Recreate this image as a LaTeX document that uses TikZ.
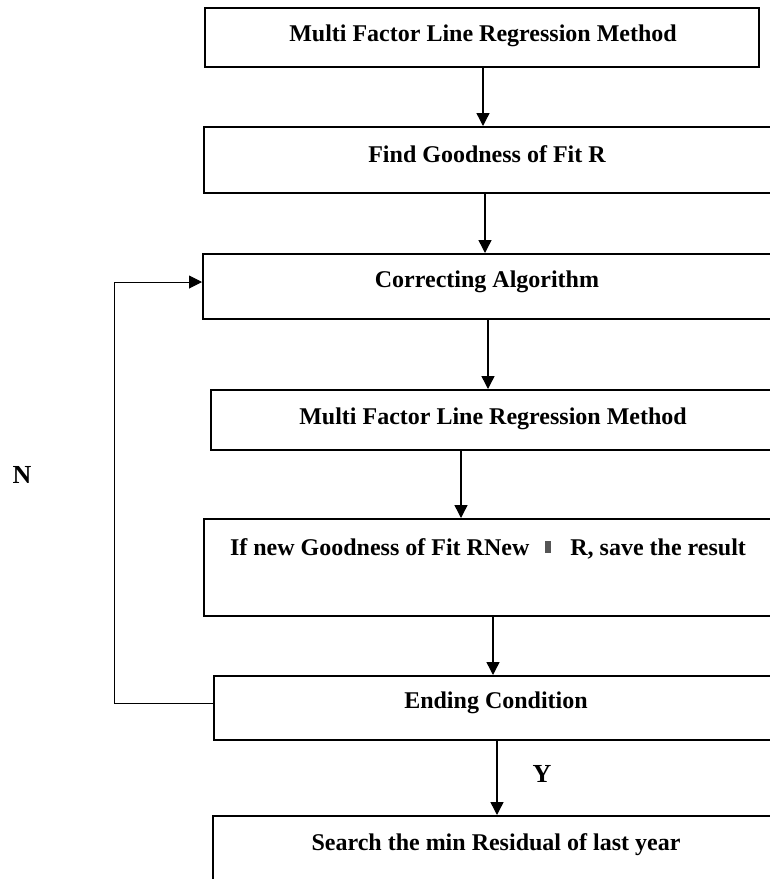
\documentclass[tikz,border=0pt]{standalone}
\usepackage{fontspec}
\setmainfont{Liberation Serif}
\usetikzlibrary{arrows.meta}
\definecolor{barcol}{HTML}{555555}
\begin{document}
\begin{tikzpicture}[x=1pt,y=-1pt,
  stagebox/.style={draw=black, line width=1.8pt, rectangle, anchor=north west,
    inner sep=0pt, minimum width=600pt},
  label/.style={anchor=base, inner sep=0pt, font=\fontsize{24}{28}\selectfont\bfseries},
  branch/.style={anchor=base, inner sep=0pt, font=\fontsize{26}{30}\selectfont\bfseries},
  flow/.style={line width=1.4pt, -{Triangle[length=13pt,width=13pt]}},
  loopline/.style={line width=1pt, -{Triangle[length=13pt,width=13pt]}}]
\useasboundingbox (0,0) rectangle (770,879);
\clip (0,0) rectangle (770,879);

% process boxes (all but the first run past the right edge)
\node[stagebox, minimum width=554pt, minimum height=59pt] (b1) at (204,7) {};
\node[stagebox, minimum height=66pt] (b2) at (203,126) {};
\node[stagebox, minimum height=65pt] (b3) at (202,253) {};
\node[stagebox, minimum height=60pt] (b4) at (210,389) {};
\node[stagebox, minimum height=97pt] (b5) at (203,518) {};
\node[stagebox, minimum height=64pt] (b6) at (213,675) {};
\node[stagebox, minimum height=100pt] (b7) at (212,815) {};

% box captions
\node[label] (t1) at (483,41) {Multi Factor Line Regression Method};
\node[label] (t2) at (487,162) {Find Goodness of Fit R};
\node[label] (t3) at (487,287) {Correcting Algorithm};
\node[label] (t4) at (493,424) {Multi Factor Line Regression Method};
\node[label] (t5) at (488,555) {If new Goodness of Fit RNew\hspace{16pt}\textcolor{barcol}{\rule[2pt]{6pt}{12pt}}\hspace{19pt}R, save the result};
\node[label] (t6) at (496,708) {Ending Condition};
\node[label] (t7) at (496,850) {Search the min Residual of last year};

% branch labels
\node[branch] (ny) at (22,483) {N};
\node[branch] (yy) at (542,782) {Y};

% main flow
\draw[flow] (b1.south -| 483,0) -- (b2.north -| 483,0);
\draw[flow] (b2.south -| 485,0) -- (b3.north -| 485,0);
\draw[flow] (b3.south -| 488,0) -- (b4.north -| 488,0);
\draw[flow] (b4.south -| 461,0) -- (b5.north -| 461,0);
\draw[flow] (b5.south -| 493,0) -- (b6.north -| 493,0);
\draw[flow] (b6.south -| 497,0) -- (b7.north -| 497,0);

% loop back when the ending condition is not met
\draw[loopline] (b6.west |- 0,703) -- (114,703) |- (b3.west |- 0,282);
\end{tikzpicture}
\end{document}
